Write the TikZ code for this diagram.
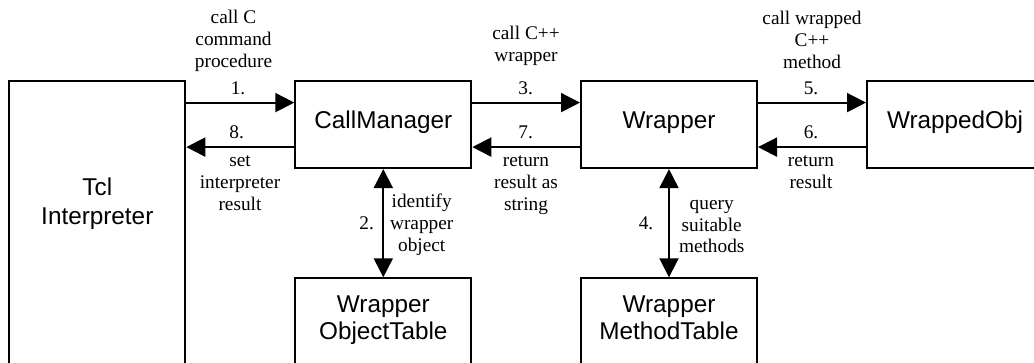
\documentclass[tikz,border=0pt]{standalone}
\usepackage{fontspec}
\setmainfont{Liberation Serif}
\newfontfamily\arialf{Liberation Sans}
\usetikzlibrary{arrows.meta}
\newcommand\mlines[1]{\vtop{\halign{\hfil##\hfil\cr#1\crcr}}}
\begin{document}
\begin{tikzpicture}[x=1pt,y=-1pt,
  box/.style={draw, line width=2pt, minimum width=176pt, minimum height=87pt, inner sep=0pt},
  arr/.style={draw, line width=2pt, -{Triangle[length=19pt,width=19pt]}},
  dbl/.style={draw, line width=2pt, {Triangle[length=19pt,width=19pt]}-{Triangle[length=19pt,width=19pt]}},
  lab/.style={font=\fontsize{19.3}{21.7}\selectfont, inner sep=0pt, anchor=base},
  btx/.style={font=\arialf\fontsize{24.3}{28.5}\selectfont, inner sep=0pt, anchor=base}]
\useasboundingbox (0,0) rectangle (1034,363);
\fill[white] (0,0) rectangle (1034,363);
\clip (0,0) rectangle (1034,363);
% boxes
\node[box, minimum height=318pt] (tcl) at (97.3,240) {};
\node[box] (cm) at (383.3,124.6) {};
\node[box] (wr) at (669,124.6) {};
\node[box] (wo) at (955,124.6) {};
\node[box, minimum height=104pt] (wot) at (383.3,330.3) {};
\node[box, minimum height=104pt] (wmt) at (669,330.3) {};
% box texts
\node[btx, font=\arialf\fontsize{24.3}{29}\selectfont] (ttcl) at (97.3,196) {\mlines{Tcl\cr Interpreter}};
\node[btx] (tcm) at (383.3,128.3) {CallManager};
\node[btx] (twr) at (669,128.3) {Wrapper};
\node[btx] (two) at (955,129) {WrappedObj};
\node[btx, font=\arialf\fontsize{24.3}{27.5}\selectfont] (twot) at (383.3,312.5) {\mlines{Wrapper\cr ObjectTable}};
\node[btx, font=\arialf\fontsize{24.3}{27.5}\selectfont] (twmt) at (669,312.5) {\mlines{Wrapper\cr MethodTable}};
% connectors
\coordinate (a1) at ([yshift=22pt]cm.west);
\coordinate (a8) at ([yshift=-22.5pt]cm.west);
\coordinate (a3) at ([yshift=22pt]wr.west);
\coordinate (a7) at ([yshift=-22.5pt]wr.west);
\coordinate (a5) at ([yshift=22pt]wo.west);
\coordinate (a6) at ([yshift=-22.5pt]wo.west);
\draw[arr] (tcl.east |- a1) -- (a1);
\draw[arr] (a8) -- (tcl.east |- a8);
\draw[arr] (cm.east |- a3) -- (a3);
\draw[arr] (a7) -- (cm.east |- a7);
\draw[arr] (wr.east |- a5) -- (a5);
\draw[arr] (a6) -- (wr.east |- a6);
\draw[dbl] (cm.south) -- (wot.north);
\draw[dbl] (wr.south) -- (wmt.north);
% labels
\node[lab] (l1t) at (233.5,24) {\mlines{call C\cr command\cr procedure}};
\node[lab] (n1) at (238,95) {1.};
\node[lab] (n8) at (236.7,138.5) {8.};
\node[lab] (l8b) at (240,166.7) {\mlines{set\cr interpreter\cr result}};
\node[lab] (l3t) at (526,40) {\mlines{call C++\cr wrapper}};
\node[lab] (n3) at (525.7,95) {3.};
\node[lab] (n7) at (525.7,139) {7.};
\node[lab] (l7b) at (526,166.7) {\mlines{return\cr result as\cr string}};
\node[lab] (l5t) at (812,25) {\mlines{call wrapped\cr C++\cr method}};
\node[lab] (n5) at (811,95) {5.};
\node[lab] (n6) at (811,139) {6.};
\node[lab] (l6b) at (811,166.7) {\mlines{return\cr result}};
\node[lab] (n2) at (366.7,230) {2.};
\node[lab] (l2) at (421.7,208) {\mlines{identify\cr wrapper\cr object}};
\node[lab] (n4) at (646,230) {4.};
\node[lab] (l4) at (711.7,209.5) {\mlines{query\cr suitable\cr methods}};
\end{tikzpicture}
\end{document}
